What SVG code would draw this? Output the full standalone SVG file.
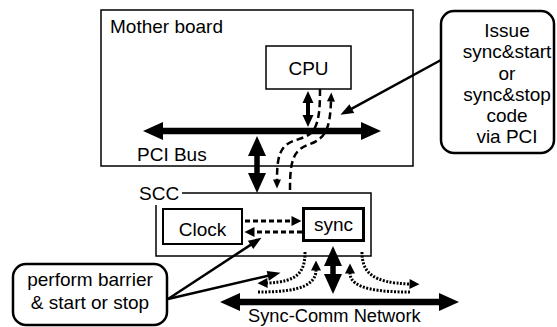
<svg xmlns="http://www.w3.org/2000/svg" width="557" height="327" viewBox="0 0 557 327">
<style>
text{font-family:"Liberation Sans",Arial,sans-serif;font-size:19px;fill:#000}
.box{fill:#fff;stroke:#000;stroke-width:1.5}
.call{fill:#fff;stroke:#000;stroke-width:2.5}
.thick{fill:none;stroke:#000;stroke-width:6.5}
.mid{fill:none;stroke:#000;stroke-width:4}
.dash{fill:none;stroke:#000;stroke-width:2.5;stroke-dasharray:7 4}
.dots{fill:none;stroke:#000;stroke-width:3;stroke-dasharray:5 3}
.fine{fill:none;stroke:#000;stroke-width:3;stroke-dasharray:2 1.5}
.thin{fill:none;stroke:#000;stroke-width:2.5}
</style>
<defs>
<marker id="big" markerUnits="userSpaceOnUse" markerWidth="21" markerHeight="18" refX="1" refY="9" orient="auto-start-reverse" overflow="visible"><path d="M0,0 L20,9 L0,18 z"/></marker>
<marker id="med" markerUnits="userSpaceOnUse" markerWidth="13" markerHeight="11" refX="1" refY="5.5" orient="auto-start-reverse" overflow="visible"><path d="M0,0 L12,5.5 L0,11 z"/></marker>
<marker id="sm" markerUnits="userSpaceOnUse" markerWidth="10" markerHeight="10" refX="0.5" refY="5" orient="auto" overflow="visible"><path d="M0,0 L10,5 L0,10 z"/></marker>
<marker id="tiny" markerUnits="userSpaceOnUse" markerWidth="9" markerHeight="8" refX="0.5" refY="4" orient="auto" overflow="visible"><path d="M0,0 L9,4 L0,8 z"/></marker>
<marker id="call" markerUnits="userSpaceOnUse" markerWidth="13" markerHeight="10" refX="0.5" refY="5" orient="auto" overflow="visible"><path d="M0,0 L13,5 L0,10 z"/></marker>
</defs>

<g id="motherboard">
<rect class="box" x="101" y="10" width="312" height="156"/>
<text x="110" y="33">Mother board</text>
<text x="137" y="161">PCI Bus</text>
</g>
<g id="cpu">
<rect class="box" x="266" y="46" width="85" height="43"/>
<text x="308.5" y="75" text-anchor="middle">CPU</text>
</g>
<g id="scc">
<rect class="box" x="156" y="193" width="215" height="63"/>
<rect x="136" y="183" width="46" height="22" fill="#fff"/>
<text x="139" y="200">SCC</text>
</g>
<g id="clock">
<rect class="box" x="163" y="209" width="79" height="35" style="stroke-width:2"/>
<text x="202.5" y="236" text-anchor="middle">Clock</text>
</g>
<g id="sync">
<rect class="box" x="303.5" y="208.5" width="60" height="32" style="stroke-width:3"/>
<text x="333.5" y="231" text-anchor="middle">sync</text>
</g>
<g id="issue-note">
<rect class="call" x="441" y="11" width="113" height="142" rx="13"/>
<text text-anchor="middle"><tspan x="507" y="37">Issue</tspan><tspan x="507" y="58">sync&amp;start</tspan><tspan x="507" y="79.5">or</tspan><tspan x="507" y="100.5">sync&amp;stop</tspan><tspan x="507" y="122">code</tspan><tspan x="507" y="143">via PCI</tspan></text>
</g>
<g id="perform-note">
<rect class="call" x="13" y="264" width="154" height="61" rx="13"/>
<text text-anchor="middle"><tspan x="90" y="286">perform barrier</tspan><tspan x="90" y="309">&amp; start or stop</tspan></text>
</g>
<g id="network">
<text x="248" y="322" style="font-size:18.3px">Sync-Comm Network</text>
</g>

<g id="connectors">
<path class="thick" d="M162,131 L362,131" marker-start="url(#big)" marker-end="url(#big)"/>
<path class="thick" d="M239,302 L440,302" marker-start="url(#big)" marker-end="url(#big)"/>
<path class="mid" d="M257,155 L257,174" marker-start="url(#big)" marker-end="url(#big)" style="stroke-width:5.5"/>
<path class="mid" d="M333,265 L333,275" marker-start="url(#big)" marker-end="url(#big)" style="stroke-width:5.5"/>
<path class="mid" d="M308,102 L308,116" marker-start="url(#med)" marker-end="url(#med)"/>
<path class="dash" d="M320,89 C320,110 319,122 313,131 C306,140 292,138 284,147 C278,154 277,165 277,180" marker-end="url(#tiny)"/>
<path class="dash" d="M290,190 C290,160 293,150 310,144 C326,138 330,128 331,101" marker-end="url(#tiny)"/>
<path class="dots" d="M245,221 L292,221" marker-end="url(#sm)"/>
<path class="dots" d="M302,232 L254,232" marker-end="url(#sm)"/>
<path class="fine" d="M305,252 C305,272 298,282 267,283" marker-end="url(#sm)"/>
<path class="fine" d="M258,292 C285,292 316,290 316,270" marker-end="url(#sm)"/>
<path class="fine" d="M410,292 C383,292 350,290 350,273" marker-end="url(#sm)"/>
<path class="fine" d="M362,252 C362,272 372,283 410,284" marker-end="url(#sm)"/>
<path class="thin" d="M441,60 L351.4,108.8" marker-end="url(#call)"/>
<path class="thin" d="M168,299 L251,244.6" marker-end="url(#call)"/>
<path class="thin" d="M168,299 L268.3,275.7" marker-end="url(#call)"/>
</g>
</svg>
